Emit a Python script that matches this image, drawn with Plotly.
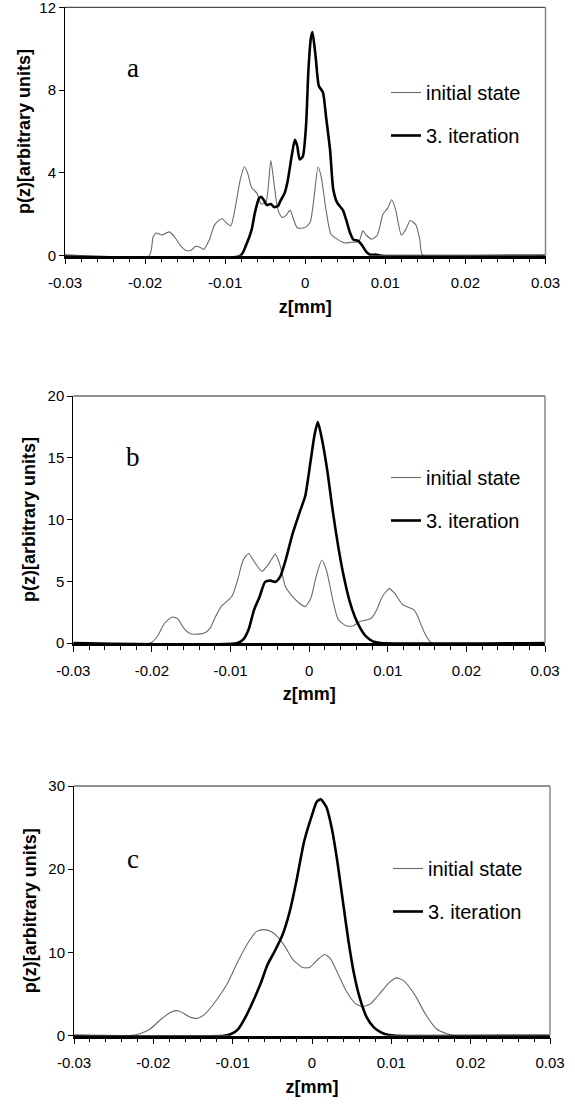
import plotly.graph_objects as go

# ---------------- data (z in mm, p(z) arbitrary units) ----------------
TICK_Z = [-0.03, -0.02, -0.01, 0, 0.01, 0.02, 0.03]
TICK_Z_TEXT = ["-0.03", "-0.02", "-0.01", "0", "0.01", "0.02", "0.03"]
SERIES_NAMES = ["initial state", "3. iteration"]
PANEL_LABELS = ["a", "b", "c"]
Y_MAX = [12, 20, 30]
Y_DTICK = [4, 5, 10]

# panel a
Z_A_INIT = [-0.03, -0.0195, -0.0190, -0.0186, -0.0179, -0.0170, -0.0163, -0.0156, -0.0149, -0.0143,
            -0.0137, -0.0131, -0.0127, -0.0120, -0.0113, -0.0104, -0.0099, -0.0093, -0.0088, -0.0081,
            -0.0076, -0.0072, -0.0067, -0.0060, -0.0055, -0.0049, -0.0043, -0.0039, -0.0034, -0.0029,
            -0.0024, -0.0019, -0.0015, -0.0010, -0.0001, 0.0006, 0.0010, 0.0016, 0.0020, 0.0026,
            0.0032, 0.0040, 0.0049, 0.0058, 0.0067, 0.0072, 0.0076, 0.0083, 0.0090, 0.0097,
            0.0103, 0.0108, 0.0113, 0.0120, 0.0126, 0.0131, 0.0138, 0.0143, 0.0147, 0.03]
P_A_INIT = [0, 0, 0.9, 1.1, 1.0, 1.15, 0.9, 0.5, 0.25, 0.25,
            0.45, 0.4, 0.3, 0.75, 1.5, 1.8, 1.6, 1.45, 2.2, 3.7,
            4.3, 4.0, 3.3, 3.0, 2.5, 2.6, 4.6, 3.5, 2.2, 1.85,
            1.95, 2.2, 1.8, 1.35, 1.35, 1.6, 2.5, 4.3, 3.8, 2.2,
            1.05, 0.8, 0.62, 0.65, 0.7, 1.2, 1.0, 0.8, 1.0, 2.0,
            2.3, 2.7, 2.2, 1.0, 1.3, 1.7, 1.5, 0.8, 0, 0]
Z_A_IT = [-0.03, -0.0081, -0.0074, -0.0067, -0.0063, -0.0058, -0.0055, -0.0052, -0.0048, -0.0043,
          -0.0039, -0.0034, -0.0031, -0.0026, -0.0022, -0.0017, -0.0013, -0.0010, -0.0007, -0.0003,
          0.0001, 0.0004, 0.0007, 0.0009, 0.0013, 0.0017, 0.0022, 0.0026, 0.0031, 0.0035,
          0.0040, 0.0047, 0.0051, 0.0056, 0.0060, 0.0066, 0.0071, 0.0076, 0.0081, 0.0088,
          0.0095, 0.03]
P_A_IT = [0, 0, 0.5, 1.25, 2.05, 2.75, 2.85, 2.7, 2.45, 2.5,
          2.35, 2.4, 2.65, 3.0, 3.6, 4.8, 5.6, 5.3, 4.65, 4.8,
          6.3, 9.0, 10.5, 10.8, 9.6, 8.2, 7.9, 6.7, 5.1, 3.2,
          2.55, 2.2, 1.75, 1.1, 0.78, 0.72, 0.5, 0.2, 0.05, 0.05,
          0, 0]

# panel b
Z_B_INIT = [-0.03, -0.0202, -0.0193, -0.0184, -0.0174, -0.0167, -0.0160, -0.0151, -0.0142, -0.0133,
            -0.0126, -0.0119, -0.0112, -0.0105, -0.0098, -0.0091, -0.0084, -0.0077, -0.0070, -0.0060,
            -0.0051, -0.0043, -0.0037, -0.0030, -0.0021, -0.0012, -0.0005, 0.0002, 0.0009, 0.0016,
            0.0022, 0.0030, 0.0037, 0.0047, 0.0056, 0.0065, 0.0072, 0.0079, 0.0086, 0.0093,
            0.0102, 0.0109, 0.0119, 0.0126, 0.0133, 0.0137, 0.0147, 0.0156, 0.03]
P_B_INIT = [0, 0, 0.55, 1.6, 2.1, 1.95, 1.25, 0.75, 0.72, 0.8,
            1.2, 2.15, 2.95, 3.35, 3.8, 5.1, 6.7, 7.25, 6.6, 5.8,
            6.45, 7.2, 6.3, 4.55, 3.75, 3.2, 2.95, 3.6, 5.4, 6.7,
            5.9, 3.5, 1.9, 1.4, 1.4, 1.75, 1.85, 2.0, 2.7, 3.75,
            4.4, 4.0, 3.1, 2.9, 2.7, 2.3, 0.8, 0, 0]
Z_B_IT = [-0.03, -0.0091, -0.0084, -0.0077, -0.0070, -0.0063, -0.0056, -0.0049, -0.0043, -0.0037,
          -0.0030, -0.0021, -0.0012, -0.0005, 0.0002, 0.0007, 0.0011, 0.0016, 0.0023, 0.0030,
          0.0037, 0.0044, 0.0051, 0.0058, 0.0065, 0.0072, 0.0081, 0.0091, 0.03]
P_B_IT = [0, 0, 0.27, 1.1, 2.7, 3.75, 4.95, 5.05, 4.95, 5.35,
          6.7, 8.85, 10.6, 11.9, 14.8, 16.9, 17.9, 16.6, 14.0, 10.7,
          7.8, 5.4, 3.5, 2.15, 1.2, 0.55, 0.13, 0, 0]

# panel c
Z_C_INIT = [-0.03, -0.0232, -0.0218, -0.0204, -0.0190, -0.0176, -0.0169, -0.0162, -0.0153, -0.0144,
            -0.0135, -0.0121, -0.0107, -0.0093, -0.0079, -0.0070, -0.0061, -0.0051, -0.0042, -0.0033,
            -0.0024, -0.0012, -0.0003, 0.0009, 0.0016, 0.0023, 0.0032, 0.0043, 0.0055, 0.0064,
            0.0074, 0.0083, 0.0097, 0.0106, 0.0115, 0.0129, 0.0143, 0.0157, 0.0171, 0.0180, 0.03]
P_C_INIT = [0, 0, 0.2, 0.8, 2.0, 2.9, 3.0, 2.7, 2.2, 2.1,
            2.6, 4.2, 6.2, 9.0, 11.4, 12.5, 12.75, 12.5, 11.75, 10.55,
            9.15, 8.2, 8.2, 9.3, 9.75, 9.3, 7.6, 5.4, 3.85, 3.5,
            3.85, 4.8, 6.35, 6.95, 6.65, 5.0, 2.6, 0.8, 0.2, 0, 0]
Z_C_IT = [-0.03, -0.0111, -0.0102, -0.0093, -0.0084, -0.0074, -0.0065, -0.0056, -0.0047, -0.0037,
          -0.0028, -0.0019, -0.0010, 0.0000, 0.0006, 0.0011, 0.0018, 0.0025, 0.0032, 0.0039,
          0.0046, 0.0053, 0.0060, 0.0069, 0.0078, 0.0087, 0.0097, 0.0106, 0.03]
P_C_IT = [0, 0, 0.2, 0.8, 2.2, 4.2, 6.2, 8.55, 10.15, 12.15,
          14.95, 18.9, 23.3, 26.5, 28.1, 28.4, 27.5, 24.9, 20.9, 16.1,
          11.35, 7.4, 4.6, 2.2, 1.0, 0.4, 0.08, 0, 0]

PANELS = [
    (Z_A_INIT, P_A_INIT, Z_A_IT, P_A_IT),
    (Z_B_INIT, P_B_INIT, Z_B_IT, P_B_IT),
    (Z_C_INIT, P_C_INIT, Z_C_IT, P_C_IT),
]

# ---------------- layout geometry (px in a 575 x 1113 page) ----------------
W, H = 575, 1113
# (left, right, top, bottom) of each plot area in px
BOXES = [(65, 545.5, 7.3, 255.7), (73.3, 545, 396, 643), (74, 550, 786, 1035.7)]
LABEL_POS = [(0.1415, 0.756), (0.127, 0.753), (0.123, 0.708)]
LEGEND_TOP_PX = [73, 458, 849]
LEGEND_LEFT_PX = [386, 386, 388]
YTITLE_STANDOFF = [4, 7, 7]

FONT = "Liberation Sans, Arial, sans-serif"
GRAY = "#6a6a6a"

fig = go.Figure()
layout = dict(
    width=W, height=H, margin=dict(l=0, r=0, t=0, b=0, pad=0, autoexpand=False),
    paper_bgcolor="white", plot_bgcolor="white",
    font=dict(family=FONT, size=15, color="black"),
    showlegend=True, annotations=[], shapes=[],
)

for i, (zi, pi, zt, pt) in enumerate(PANELS):
    sfx = "" if i == 0 else str(i + 1)
    xa, ya = "x" + sfx, "y" + sfx
    leg = "legend" + sfx
    fig.add_trace(go.Scatter(
        x=zi, y=pi, mode="lines", name=SERIES_NAMES[0], xaxis=xa, yaxis=ya,
        line=dict(color=GRAY, width=1.1, shape="spline", smoothing=0.6),
        legend=leg, legendgroup=f"init{i}"))
    fig.add_trace(go.Scatter(
        x=zt, y=pt, mode="lines", name=SERIES_NAMES[1], xaxis=xa, yaxis=ya,
        line=dict(color="black", width=2.6, shape="spline", smoothing=0.6),
        legend=leg, legendgroup=f"iter{i}"))

    l, r, t, b = BOXES[i]
    layout["xaxis" + sfx] = dict(
        domain=[l / W, r / W], anchor=ya, range=[-0.03, 0.03], automargin=False,
        tickmode="array", tickvals=TICK_Z, ticktext=TICK_Z_TEXT,
        ticks="outside", ticklen=6, tickwidth=1, tickcolor="black",
        minor=dict(ticks="outside", ticklen=4, tickcolor="black", dtick=0.002, tick0=-0.03),
        showline=True, linecolor="black", linewidth=2.5,
        showgrid=False, zeroline=False, ticklabelstandoff=6, ticklabeloverflow="allow",
        tickfont=dict(size=15),
        title=dict(text="z[mm]", font=dict(size=18, weight="bold"), standoff=10),
    )
    layout["yaxis" + sfx] = dict(
        domain=[(H - b) / H, (H - t) / H], anchor=xa, range=[0, Y_MAX[i]],
        tickmode="linear", tick0=0, dtick=Y_DTICK[i],
        automargin=False, ticklabeloverflow="allow",
        ticks="outside", ticklen=5, tickcolor="black",
        showline=True, linecolor="black", linewidth=1,
        showgrid=False, zeroline=False, tickfont=dict(size=15),
        title=dict(text="p(z)[arbitrary units]", font=dict(size=18, weight="bold"),
                   standoff=YTITLE_STANDOFF[i]),
    )
    layout[leg] = dict(
        x=LEGEND_LEFT_PX[i] / W, y=(H - LEGEND_TOP_PX[i]) / H, xanchor="left", yanchor="top",
        bgcolor="rgba(0,0,0,0)", borderwidth=0, font=dict(size=20, family=FONT),
        tracegroupgap=14, itemwidth=30,
    )
    # frame: top (black) and right (gray)
    layout["shapes"].append(dict(type="line", xref=f"{xa} domain", yref=f"{ya} domain",
                                 x0=0, x1=1, y0=1, y1=1, line=dict(color="#222", width=1)))
    layout["shapes"].append(dict(type="line", xref=f"{xa} domain", yref=f"{ya} domain",
                                 x0=1, x1=1, y0=0, y1=1, line=dict(color="#888", width=1.5)))
    lx, ly = LABEL_POS[i]
    layout["annotations"].append(dict(
        text=PANEL_LABELS[i], xref=f"{xa} domain", yref=f"{ya} domain", x=lx, y=ly,
        showarrow=False, xanchor="center", yanchor="middle",
        font=dict(family="Liberation Serif, Times New Roman, serif", size=27, color="black")))

fig.update_layout(**layout)
fig.write_html("out.html")
